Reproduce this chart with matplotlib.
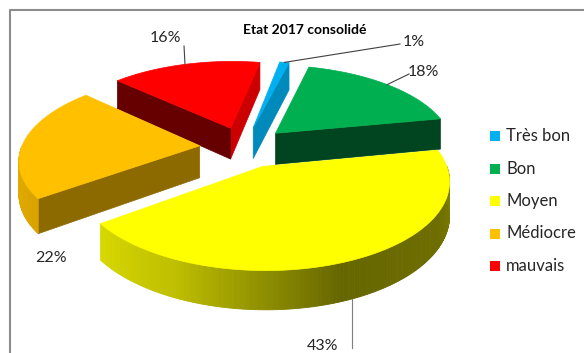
import numpy as np
import matplotlib
matplotlib.use('Agg')
import matplotlib.pyplot as plt
from matplotlib.patches import Polygon, Rectangle
from matplotlib.colors import to_rgb

labels = ['Très bon', 'Bon', 'Moyen', 'Médiocre', 'mauvais']
values = [1, 18, 43, 22, 16]
colors = ['#00b0f0', '#00b050', '#ffff00', '#ffc000', '#ff0000']
title = 'Etat 2017 consolidé'

# label text positions (pixels) and leader style per slice
lab_pos = [(414, 42), (423, 72), (323, 346), (51, 258), (165, 38)]

# pie geometry, in pixels
CX, CY = 244, 147
RX, RY = 178, 82
DEPTH = 32
P = 0.15          # fake perspective
EXPL = 0.25       # explosion, in radius units
START = 10.6      # angle of first slice, clockwise from 12 o'clock

FONT = ['Lato', 'DejaVu Sans']
plt.rcParams['font.family'] = FONT


def proj(x, y, z=0.0):
    f = 1.0 / (1.0 + P * y)
    return CX + RX * x * f, CY - RY * y * f + DEPTH * z * f


def shade(c, k):
    r, g, b = to_rgb(c)
    return (r * k, g * k, b * k)


def wall_factor(n):
    n = n % 360
    return np.interp(n, [180, 227, 281, 306, 349, 360], [0.4, 0.4, 0.39, 0.55, 0.8, 0.8])


def arc_factor(t):
    t = t % 360
    return np.interp(t, [180, 200, 216, 245, 290, 330, 360], [0.9, 0.88, 0.85, 0.75, 0.4, 0.43, 0.5])


fig = plt.figure(figsize=(5.84, 3.53), dpi=100)
ax = fig.add_axes([0, 0, 1, 1])
ax.set_xlim(0, 584)
ax.set_ylim(353, 0)
ax.axis('off')

# chart frame
ax.plot([10, 10, 590], [360, 10, 10], color='#8c8c8c', lw=1.5, solid_capstyle='butt')

total = float(sum(values))
slices = []
cw = START
for i, v in enumerate(values):
    cw0, cw1 = cw, cw + 360.0 * v / total
    cw = cw1
    a_lo, a_hi = 90 - cw1, 90 - cw0
    mid = np.radians((a_lo + a_hi) / 2)
    ox, oy = EXPL * np.cos(mid), EXPL * np.sin(mid)
    slices.append(dict(i=i, a_lo=a_lo, a_hi=a_hi, mid=mid, ox=ox, oy=oy))

# back to front
order = sorted(slices, key=lambda s: -s['oy'])

for s in order:
    i = s['i']
    col = colors[i]
    ox, oy = s['ox'], s['oy']
    a_lo, a_hi = s['a_lo'], s['a_hi']

    def edge(a, z):
        r = np.radians(a)
        return proj(ox + np.cos(r), oy + np.sin(r), z)

    # radial walls
    for a, n in ((a_lo, a_lo - 90), (a_hi, a_hi + 90)):
        if np.sin(np.radians(n)) < 0:
            pts = [proj(ox, oy, 0), edge(a, 0), edge(a, 1), proj(ox, oy, 1)]
            fc = shade(col, wall_factor(n))
            ax.add_patch(Polygon(pts, closed=True, fc=fc, ec=fc, lw=0.5))

    # curved outer wall
    th = np.linspace(a_lo, a_hi, max(int((a_hi - a_lo) * 1.5), 2))
    for t0, t1 in zip(th[:-1], th[1:]):
        tm = (t0 + t1) / 2
        if np.sin(np.radians(tm)) < 0:
            pts = [edge(t0, 0), edge(t1, 0), edge(t1, 1), edge(t0, 1)]
            fc = shade(col, arc_factor(tm))
            ax.add_patch(Polygon(pts, closed=True, fc=fc, ec=fc, lw=0.6))

    # top face
    th = np.linspace(a_lo, a_hi, max(int(a_hi - a_lo), 2) + 1)
    pts = [proj(ox, oy, 0)] + [edge(t, 0) for t in th]
    ax.add_patch(Polygon(pts, closed=True, fc=col, ec=col, lw=0.5))

# percentage labels with leader lines
for s in slices:
    i = s['i']
    txt = '%d%%' % values[i]
    tx, ty = lab_pos[i]
    m = s['mid']
    ox, oy = s['ox'], s['oy']
    if labels[i] == 'Moyen':
        axp, ayp = proj(ox + np.cos(m), oy + np.sin(m), 1)
        ax.plot([axp, axp], [ayp, ty + 2], color='#7f7f7f', lw=0.8)
    elif labels[i] == 'Médiocre':
        pass
    else:
        axp, ayp = proj(ox + np.cos(m), oy + np.sin(m), 0)
        if labels[i] == 'mauvais':
            ax.plot([axp, axp - 1], [ayp, ty + 8], color='#404040', lw=0.8)
        else:
            ax.plot([axp, tx - 14], [ayp, ty + 2], color='#404040', lw=0.8)
    ax.text(tx, ty, txt, ha='center', va='center', fontsize=11.5, color='#262626')

ax.text(305, 30, title, ha='center', va='center', fontsize=10, fontweight='bold', color='#000000')

# legend
for k, (lab, c) in enumerate(zip(labels, colors)):
    y = 136 + 32.5 * k
    ax.add_patch(Rectangle((490, y - 5), 10, 10, fc=c, ec='none'))
    ax.text(506, y, lab, ha='left', va='center', fontsize=12, color='#262626')

fig.savefig('out.png', dpi=100)
